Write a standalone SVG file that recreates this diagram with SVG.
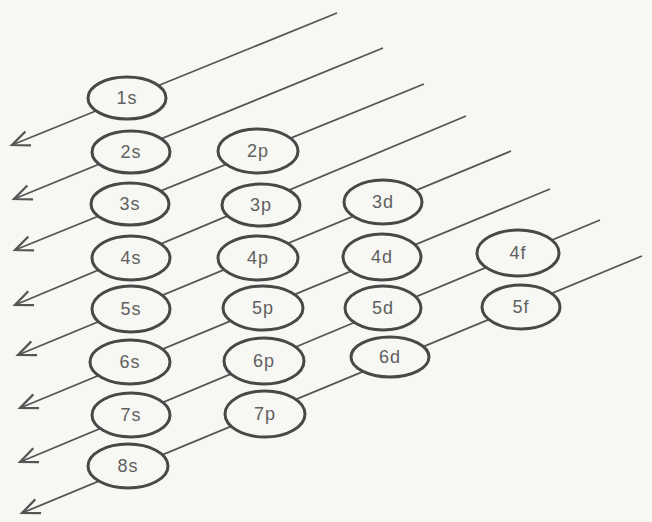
<svg xmlns="http://www.w3.org/2000/svg" width="652" height="522" viewBox="0 0 652 522">
<style>
.bg{fill:#f7f7f3}
.conn line{stroke:#555;stroke-width:1.8;fill:none;marker-end:url(#chev)}
.node ellipse{fill:#f7f7f3;stroke:#484848;stroke-width:3}
.node text{font-family:"Liberation Sans",Arial,sans-serif;font-size:18px;fill:#606060;text-anchor:middle;dominant-baseline:central;letter-spacing:1px}
</style>
<defs>
<marker id="chev" markerUnits="userSpaceOnUse" markerWidth="30" markerHeight="30" viewBox="-20 -10 24 20" refX="0" refY="0" orient="auto">
<path d="M-14,-6 L0,0 L-14,6" fill="none" stroke="#555" stroke-width="1.8"/>
</marker>
</defs>
<rect class="bg" x="0" y="0" width="652" height="522"/>
<g id="connectors" class="conn">
<line x1="337" y1="13" x2="12" y2="145"/>
<line x1="383" y1="48" x2="14" y2="199"/>
<line x1="424" y1="84" x2="15" y2="250"/>
<line x1="466" y1="116" x2="15" y2="305"/>
<line x1="511" y1="151" x2="18" y2="355"/>
<line x1="550" y1="189" x2="20" y2="408"/>
<line x1="600" y1="220" x2="20" y2="462"/>
<line x1="642" y1="256" x2="22" y2="513"/>
</g>
<g id="n1s" class="node"><ellipse cx="127" cy="98" rx="39" ry="21"/><text x="127" y="98">1s</text></g>
<g id="n2s" class="node"><ellipse cx="131" cy="152" rx="39" ry="21"/><text x="131" y="152">2s</text></g>
<g id="n2p" class="node"><ellipse cx="258" cy="151" rx="40" ry="22"/><text x="258" y="151">2p</text></g>
<g id="n3s" class="node"><ellipse cx="130" cy="204" rx="39" ry="21"/><text x="130" y="204">3s</text></g>
<g id="n3p" class="node"><ellipse cx="261" cy="205" rx="39" ry="21"/><text x="261" y="205">3p</text></g>
<g id="n3d" class="node"><ellipse cx="383" cy="202" rx="39" ry="22"/><text x="383" y="202">3d</text></g>
<g id="n4s" class="node"><ellipse cx="131" cy="258" rx="39" ry="22"/><text x="131" y="258">4s</text></g>
<g id="n4p" class="node"><ellipse cx="258" cy="258" rx="40" ry="22"/><text x="258" y="258">4p</text></g>
<g id="n4d" class="node"><ellipse cx="382" cy="257" rx="39" ry="23"/><text x="382" y="257">4d</text></g>
<g id="n4f" class="node"><ellipse cx="518" cy="253" rx="41" ry="23"/><text x="518" y="253">4f</text></g>
<g id="n5s" class="node"><ellipse cx="131" cy="309" rx="39" ry="23"/><text x="131" y="309">5s</text></g>
<g id="n5p" class="node"><ellipse cx="263" cy="308" rx="40" ry="22"/><text x="263" y="308">5p</text></g>
<g id="n5d" class="node"><ellipse cx="383" cy="308" rx="38" ry="22"/><text x="383" y="308">5d</text></g>
<g id="n5f" class="node"><ellipse cx="521" cy="307" rx="39" ry="22"/><text x="521" y="307">5f</text></g>
<g id="n6s" class="node"><ellipse cx="130" cy="362" rx="40" ry="22"/><text x="130" y="362">6s</text></g>
<g id="n6p" class="node"><ellipse cx="264" cy="361" rx="40" ry="23"/><text x="264" y="361">6p</text></g>
<g id="n6d" class="node"><ellipse cx="390" cy="357" rx="39" ry="20"/><text x="390" y="357">6d</text></g>
<g id="n7s" class="node"><ellipse cx="131" cy="415" rx="39" ry="22"/><text x="131" y="415">7s</text></g>
<g id="n7p" class="node"><ellipse cx="265" cy="414" rx="40" ry="23"/><text x="265" y="414">7p</text></g>
<g id="n8s" class="node"><ellipse cx="128" cy="466" rx="40" ry="22"/><text x="128" y="466">8s</text></g>
</svg>
